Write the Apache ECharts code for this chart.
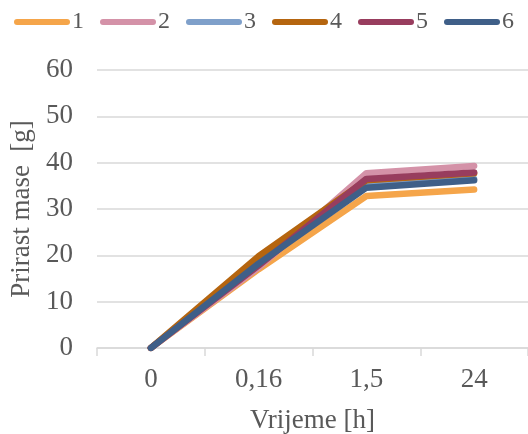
<!DOCTYPE html>
<html>
<head>
<meta charset="utf-8">
<script src="https://cdn.jsdelivr.net/npm/echarts@6/dist/echarts.min.js"></script>
<style>
  html, body { margin: 0; padding: 0; background: #fff; }
  #chart { width: 528px; height: 434px; }
</style>
</head>
<body>
<div id="chart"></div>
<script>
// Time points (hours) and mass gain per sample [g]
const categories = ['0', '0,16', '1,5', '24'];
const seriesNames = ['1', '2', '3', '4', '5', '6'];
const s1 = [0, 17.0, 32.8, 34.2];
const s2 = [0, 17.4, 37.7, 39.3];
const s3 = [0, 18.6, 35.0, 36.5];
const s4 = [0, 19.8, 36.2, 37.7];
const s5 = [0, 17.8, 36.5, 37.9];
const s6 = [0, 18.2, 34.6, 36.2];
const yTicks = [0, 10, 20, 30, 40, 50, 60];

const colors = ['#F5A54A', '#D492A8', '#7FA0CA', '#B5650F', '#983D5E', '#3F5F88'];
const allData = [s1, s2, s3, s4, s5, s6];
const font = 'Liberation Serif';
const textColor = '#595959';
// rounded bar used as legend swatch
const legendIcon = 'path://M3,0 L53,0 A3,3 0 0 1 53,6 L3,6 A3,3 0 0 1 3,0 Z';

const chart = echarts.init(document.getElementById('chart'));
chart.setOption({
  animation: false,
  color: colors,
  textStyle: { fontFamily: font },
  legend: {
    top: 5,
    left: 'center',
    icon: legendIcon,
    itemWidth: 56,
    itemHeight: 6,
    itemGap: 16,
    textStyle: { fontFamily: font, fontSize: 24, color: textColor, padding: [0, 0, 0, -3] },
    data: seriesNames
  },
  grid: { left: 97, right: 0, top: 70, bottom: 86, outerBoundsMode: 'none', containLabel: false },
  xAxis: {
    type: 'category',
    data: categories,
    boundaryGap: true,
    name: 'Vrijeme [h]',
    nameLocation: 'middle',
    nameGap: 59,
    nameTextStyle: { fontFamily: font, fontSize: 27, color: textColor },
    axisLine: { lineStyle: { color: '#D9D9D9', width: 1.5 } },
    axisTick: { show: true, length: 8, lineStyle: { color: '#D9D9D9', width: 1.5 } },
    axisLabel: { fontFamily: font, fontSize: 27, color: textColor, margin: 18 }
  },
  yAxis: {
    type: 'value',
    min: yTicks[0],
    max: yTicks[yTicks.length - 1],
    interval: 10,
    name: 'Prirast mase  [g]',
    nameLocation: 'middle',
    nameGap: 56,
    nameTextStyle: { fontFamily: font, fontSize: 27, color: textColor },
    axisLine: { show: false },
    axisTick: { show: false },
    splitLine: { lineStyle: { color: '#D9D9D9', width: 1.5 } },
    axisLabel: { fontFamily: font, fontSize: 27, color: textColor, margin: 24 }
  },
  series: seriesNames.map((name, i) => ({
    name: name,
    type: 'line',
    data: allData[i],
    symbol: 'none',
    lineStyle: { width: 6.5, cap: 'round', join: 'round', color: colors[i] },
    itemStyle: { color: colors[i] },
    z: 2 + i
  }))
});
</script>
</body>
</html>
